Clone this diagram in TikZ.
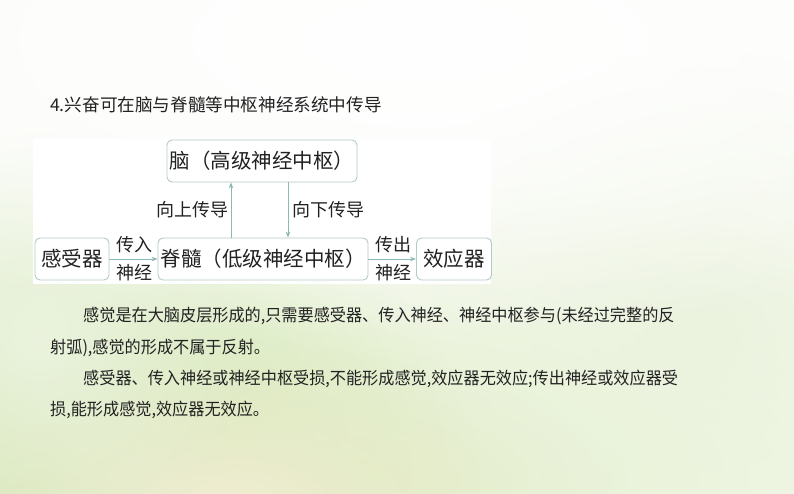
\documentclass[tikz,border=0pt]{standalone}
\usepackage{fontspec}
\setmainfont{Noto Sans CJK SC}
\newfontfamily\parafont[FakeStretch=0.95]{Noto Sans CJK SC}
\usetikzlibrary{arrows.meta,fadings}
\tikzfading[name=softblob, inner color=transparent!0, outer color=transparent!100]
\definecolor{boxline}{HTML}{B3CAC6}
\definecolor{arr}{HTML}{8BBAB5}
\definecolor{txt}{HTML}{222222}
\definecolor{bgbase}{HTML}{FBFCF8}
\definecolor{bgA}{HTML}{C9E2A4}
\definecolor{bgB}{HTML}{E0EEC6}
\definecolor{bgC}{HTML}{EBF3DE}
\definecolor{bgD}{HTML}{F0EDD2}
\tikzset{
  boxnode/.style={draw=boxline,line width=0.9pt,rounded corners=5pt,fill=white,
    minimum height=42pt,inner sep=0pt,text=txt,font=\fontsize{20.5}{20.5}\selectfont},
  lbl/.style={text=txt,inner sep=0pt,font=\fontsize{18}{18}\selectfont},
  para/.style={text=txt,inner sep=0pt,anchor=west,font=\parafont\fontsize{17}{17}\selectfont},
  conn/.style={draw=arr,line width=0.8pt,-{Stealth[length=6pt,width=4.5pt]}},
  blob/.style={path fading=softblob}
}
\begin{document}
\begin{tikzpicture}[x=1pt,y=-1pt]
\useasboundingbox (0,0) rectangle (794,493);
% background
\fill[bgbase] (0,0) rectangle (794,493);
\begin{scope}
\clip (0,0) rectangle (794,493);
\fill[bgB,blob] (360,480) ellipse (700 and 300);
\fill[bgA,blob] (40,490) ellipse (440 and 340);
\fill[bgD,blob] (220,500) ellipse (360 and 160);
\fill[bgC,blob] (700,330) ellipse (340 and 280);
\fill[bgC,blob] (40,340) ellipse (220 and 220);
\fill[white,blob] (420,40) ellipse (800 and 300);
\end{scope}
% title
\node[text=txt,inner sep=0pt,anchor=west,font=\fontsize{17.6}{17.6}\selectfont] (title) at (50,105) {4.兴奋可在脑与脊髓等中枢神经系统中传导};
% panel
\fill[white] (33,139) rectangle (491,284);
% boxes
\node[boxnode,minimum width=190pt] (brain) at (262,161) {脑（高级神经中枢）};
\node[boxnode,minimum width=210pt] (spinal) at (263,259) {脊髓（低级神经中枢）};
\node[boxnode,minimum width=74pt] (recep) at (72,259) {感受器};
\node[boxnode,minimum width=75pt] (effec) at (454,259) {效应器};
% connectors
\coordinate (upx) at (231,0);
\coordinate (downx) at (288,0);
\draw[conn] (recep) -- (spinal);
\draw[conn] (spinal) -- (effec);
\draw[conn] (spinal.north -| upx) -- (brain.south -| upx);
\draw[conn] (brain.south -| downx) -- (spinal.north -| downx);
% labels
\node[lbl] (l1) at (192,210) {向上传导};
\node[lbl] (l2) at (328,210) {向下传导};
\node[lbl] (l3) at (134,245) {传入};
\node[lbl] (l4) at (134,273) {神经};
\node[lbl] (l5) at (393,245) {传出};
\node[lbl] (l6) at (393,273) {神经};
% paragraphs
\node[para] (p1) at (83,316) {感觉是在大脑皮层形成的,只需要感受器、传入神经、神经中枢参与(未经过完整的反};
\node[para] (p2) at (50,348) {射弧),感觉的形成不属于反射。};
\node[para] (p3) at (83,379) {感受器、传入神经或神经中枢受损,不能形成感觉,效应器无效应;传出神经或效应器受};
\node[para] (p4) at (50,410) {损,能形成感觉,效应器无效应。};
\end{tikzpicture}
\end{document}
